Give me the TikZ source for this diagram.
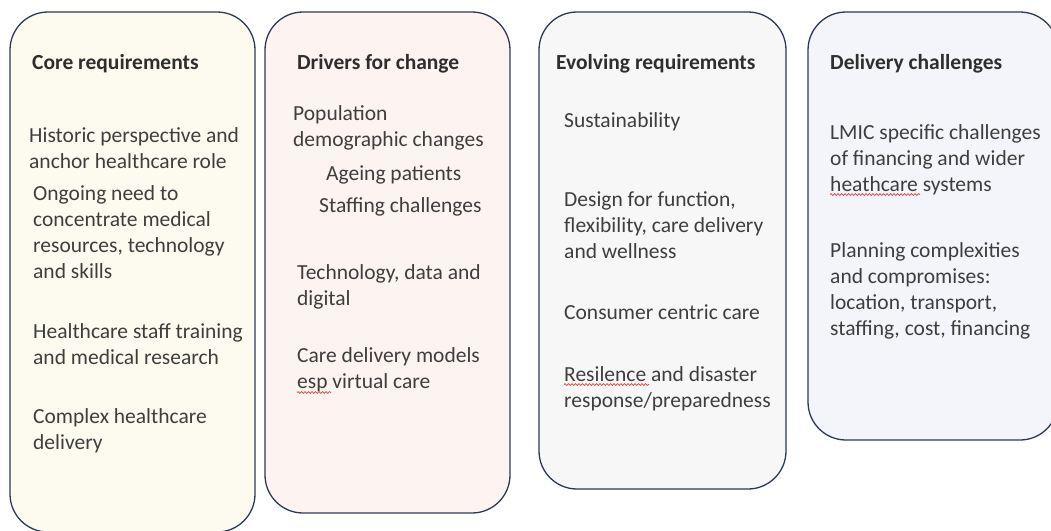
\documentclass[tikz,border=0pt]{standalone}
\usepackage{fontspec}
\setmainfont{Carlito}
\usetikzlibrary{decorations.pathmorphing}
\definecolor{edge}{HTML}{2C3A55}
\definecolor{ink}{HTML}{3E3E3E}
\definecolor{inkdark}{HTML}{2E2E2E}
\definecolor{fillA}{HTML}{FDFBF0}
\definecolor{fillB}{HTML}{FDF3F1}
\definecolor{fillC}{HTML}{F7F7F8}
\definecolor{fillD}{HTML}{F3F5FA}
\definecolor{spell}{HTML}{E0453A}
% multi-line items are placed by the baseline of their last line
\tikzset{
  column/.style={draw=edge, line width=1.3pt, rounded corners=38pt},
  heading/.style={anchor=base west, inner sep=0pt, text=inkdark,
    font=\fontsize{21.5}{26}\selectfont\bfseries},
  item/.style={anchor=base west, inner sep=0pt, text=ink, align=left,
    font=\fontsize{21.5}{26}\selectfont},
  squiggle/.style={draw=spell, line width=0.7pt,
    decorate, decoration={snake, amplitude=0.9pt, segment length=3.5pt}}
}
\begin{document}
\begin{tikzpicture}[x=1pt, y=-1pt]
\useasboundingbox (0,0) rectangle (1051,530);
\clip (0,0) rectangle (1051,530);

% column frames
\draw[column, fill=fillA] (10,12) rectangle (255,532);
\draw[column, fill=fillB] (265,12) rectangle (510,513);
\draw[column, fill=fillC] (539,12) rectangle (786,489);
\draw[column, fill=fillD] (808,12) rectangle (1058,440);

% core requirements
\node[heading] (h1) at (32,69) {Core requirements};
\node[item] (c1) at (29,168) {Historic perspective and\\anchor healthcare role};
\node[item] (c2) at (33,278) {Ongoing need to\\concentrate medical\\resources, technology\\and skills};
\node[item] (c3) at (33,364) {Healthcare staff training\\and medical research};
\node[item] (c4) at (33,449) {Complex healthcare\\delivery};

% drivers for change
\node[heading] (h2) at (297,69) {Drivers for change};
\node[item] (d1) at (293,146) {Population\\demographic changes};
\node[item] (d2) at (326,180) {Ageing patients};
\node[item] (d3) at (319,212) {Staffing challenges};
\node[item] (d4) at (297,305) {Technology, data and\\digital};
\node[item] (d5) at (297,388) {Care delivery models\\esp virtual care};

% evolving requirements
\node[heading] (h3) at (556,69) {Evolving requirements};
\node[item] (e1) at (564,127) {Sustainability};
\node[item] (e2) at (564,258) {Design for function,\\flexibility, care delivery\\and wellness};
\node[item] (e3) at (564,319) {Consumer centric care};
\node[item] (e4) at (564,407) {Resilence and disaster\\response/preparedness};

% delivery challenges
\node[heading] (h4) at (830,69) {Delivery challenges};
\node[item] (f1) at (830,191) {LMIC specific challenges\\of financing and wider\\heathcare systems};
\node[item] (f2) at (830,335) {Planning complexities\\and compromises:\\location, transport,\\staffing, cost, financing};

% spell-check marks
\draw[squiggle] (297,392.5) -- (331,392.5);
\draw[squiggle] (564,384.5) -- (649,384.5);
\draw[squiggle] (830,194.5) -- (920,194.5);
\end{tikzpicture}
\end{document}
